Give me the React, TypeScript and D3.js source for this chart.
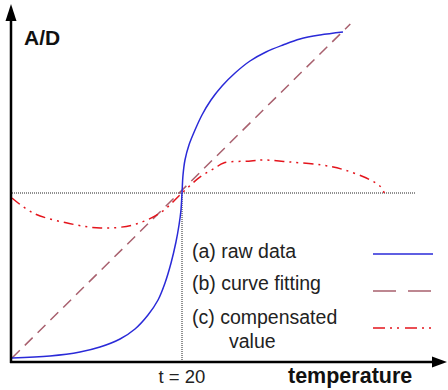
import React from "react";
import * as d3 from "d3";

const W = 448;
const H = 390;

// raw data (a)
const rawT = [0, 4.47, 8.0, 10.35, 12.71, 14.47, 16.0, 17.18, 18.0, 18.71, 19.29, 19.65, 19.88, 20, 20.12, 20.35, 20.82, 21.53, 22.35, 23.41, 24.71, 26.24, 28.0, 29.88, 31.88, 33.88, 36.24, 38.94];
const rawV = [0, 0.61, 1.82, 3.33, 5.76, 8.79, 13.03, 17.58, 22.73, 28.79, 35.15, 40.3, 44.85, 50, 55.45, 60, 64.55, 69.09, 73.64, 78.18, 82.42, 86.36, 90.0, 92.73, 94.85, 96.67, 97.88, 98.79];

// curve fitting (b)
const fitT = [0, 39.8];
const fitV = [0, 101.2];

// compensated value (c)
const compT = [0, 2.5, 6.5, 10.4, 14.2, 17.4, 20, 22.1, 23.9, 24.9, 28.1, 29.6, 32.7, 36.4, 39.1, 42.2, 43.4, 43.8];
const compV = [48.5, 43.9, 40.9, 39.4, 40.3, 43.9, 50, 54.8, 57.6, 59.1, 59.7, 60, 59.4, 58.5, 57, 53.9, 51.8, 50];

const refT = 20;
const refV = 50;
const refLineEnd = 47.5;

const legendLabels = ["(a) raw data", "(b) curve fitting", "(c) compensated"];
const legendExtra = "value";
const tLabel = "t = 20";
const xTitle = "temperature";
const yTitle = "A/D";

const BLUE = "#2a2ad8";
const MAUVE = "#a8606e";
const RED = "#e4141c";
const FONT = "Liberation Sans, Arial, sans-serif";

export default function App() {
  const x = d3.scaleLinear().domain([0, 50]).range([12, 437]);
  const y = d3.scaleLinear().domain([0, 100]).range([358, 28]);

  const line = d3
    .line<[number, number]>()
    .x((d) => x(d[0]))
    .y((d) => y(d[1]))
    .curve(d3.curveCatmullRom.alpha(0.5));
  const straight = d3
    .line<[number, number]>()
    .x((d) => x(d[0]))
    .y((d) => y(d[1]));

  const raw = rawT.map((t, i) => [t, rawV[i]] as [number, number]);
  const fit = fitT.map((t, i) => [t, fitV[i]] as [number, number]);
  const comp = compT.map((t, i) => [t, compV[i]] as [number, number]);

  const axisY = 362;
  const axisX = 11;

  const legY = [254, 291, 328];
  const legTextY = [258, 290, 324];

  return (
    <svg width={W} height={H} style={{ position: "absolute", left: 0, top: 0, background: "#fff" }}>
      <rect width={W} height={H} fill="#fff" />
      {/* reference dotted lines */}
      <line x1={x(0)} x2={x(refLineEnd)} y1={y(refV)} y2={y(refV)} stroke="#222" strokeWidth={1} strokeDasharray="1,1" />
      <line x1={x(refT)} x2={x(refT)} y1={y(refV)} y2={axisY} stroke="#222" strokeWidth={1} strokeDasharray="1,1" />

      {/* curves */}
      <path d={straight(fit) || ""} fill="none" stroke={MAUVE} strokeWidth={1.5} strokeDasharray="11,7" />
      <path d={line(comp) || ""} fill="none" stroke={RED} strokeWidth={1.5} strokeDasharray="10,5,2,5,2,5" />
      <path d={line(raw) || ""} fill="none" stroke={BLUE} strokeWidth={1.5} />

      {/* axes */}
      <line x1={axisX} x2={axisX} y1={axisY + 1} y2={18} stroke="#000" strokeWidth={2.5} />
      <path d={`M${axisX},4 L${axisX - 5.5},21 L${axisX + 5.5},21 Z`} fill="#000" />
      <line x1={axisX - 1} x2={434} y1={axisY} y2={axisY} stroke="#000" strokeWidth={2.5} />
      <path d={`M447,${axisY} L432,${axisY - 5.5} L432,${axisY + 5.5} Z`} fill="#000" />

      {/* titles */}
      <text x={24} y={45} fontFamily={FONT} fontWeight="bold" fontSize={21} fill="#111">{yTitle}</text>
      <text x={x(refT)} y={383} fontFamily={FONT} fontSize={18.5} fill="#222" textAnchor="middle">{tLabel}</text>
      <text x={288} y={383} fontFamily={FONT} fontWeight="bold" fontSize={21.5} fill="#111">{xTitle}</text>

      {/* legend */}
      {legendLabels.map((l, i) => (
        <text key={l} x={192} y={legTextY[i]} fontFamily={FONT} fontSize={19.5} fill="#222">{l}</text>
      ))}
      <text x={229} y={348} fontFamily={FONT} fontSize={19.5} fill="#222">{legendExtra}</text>
      <line x1={373} x2={433} y1={legY[0]} y2={legY[0]} stroke={BLUE} strokeWidth={1.5} />
      <line x1={373} x2={433} y1={legY[1]} y2={legY[1]} stroke={MAUVE} strokeWidth={1.5} strokeDasharray="23,12" />
      <line x1={373} x2={433} y1={legY[2]} y2={legY[2]} stroke={RED} strokeWidth={1.5} strokeDasharray="12,5,2,5,2,6" />
    </svg>
  );
}
